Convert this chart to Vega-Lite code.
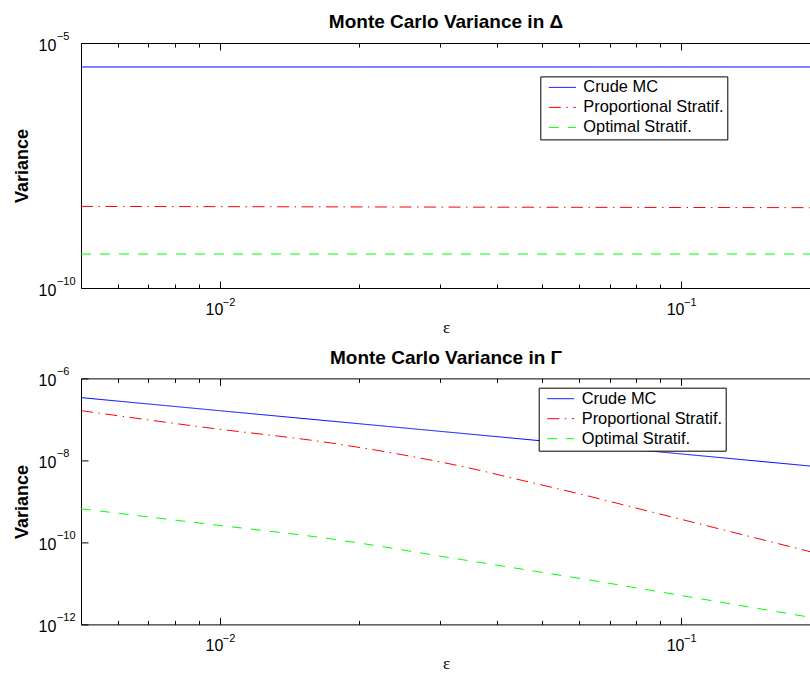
{
  "$schema": "https://vega.github.io/schema/vega-lite/v6.json",
  "background": "white",
  "padding": {"left": 13, "top": 13, "right": 0, "bottom": 0},
  "spacing": 12.4,
  "config": {
    "font": "Liberation Sans",
    "view": {"stroke": null},
    "axis": {"domainColor": "#000000", "tickColor": "#000000", "labelColor": "#000000", "titleColor": "#000000", "grid": false, "labelFont": "Liberation Sans", "titleFont": "Liberation Sans", "labelOverlap": false, "labelFlush": false, "tickWidth": 1, "domainWidth": 1},
    "title": {"font": "Liberation Sans", "fontSize": 19, "fontWeight": "bold", "color": "#000000", "anchor": "middle", "baseline": "alphabetic", "offset": -1.7}
  },
  "datasets": {
    "delta": [
      {"series": "Crude MC", "eps": 0.005, "v": 3.24e-6},
      {"series": "Crude MC", "eps": 0.02, "v": 3.24e-6},
      {"series": "Crude MC", "eps": 0.1914, "v": 3.24e-6},
      {"series": "Proportional Stratif.", "eps": 0.005, "v": 4.62e-9},
      {"series": "Proportional Stratif.", "eps": 0.01, "v": 4.57e-9},
      {"series": "Proportional Stratif.", "eps": 0.03, "v": 4.48e-9},
      {"series": "Proportional Stratif.", "eps": 0.1, "v": 4.4e-9},
      {"series": "Proportional Stratif.", "eps": 0.1914, "v": 4.36e-9},
      {"series": "Optimal Stratif.", "eps": 0.005, "v": 4.94e-10},
      {"series": "Optimal Stratif.", "eps": 0.03, "v": 4.94e-10},
      {"series": "Optimal Stratif.", "eps": 0.1914, "v": 4.94e-10}
    ],
    "gamma": [
      {"series": "Crude MC", "eps": 0.005, "v": 3.40e-7},
      {"series": "Crude MC", "eps": 0.01, "v": 1.63e-7},
      {"series": "Crude MC", "eps": 0.02, "v": 7.86e-8},
      {"series": "Crude MC", "eps": 0.05, "v": 2.99e-8},
      {"series": "Crude MC", "eps": 0.1, "v": 1.44e-8},
      {"series": "Crude MC", "eps": 0.1914, "v": 7.26e-9},
      {"series": "Proportional Stratif.", "eps": 0.005, "v": 1.637e-7},
      {"series": "Proportional Stratif.", "eps": 0.0093, "v": 6.36e-8},
      {"series": "Proportional Stratif.", "eps": 0.0174, "v": 2.66e-8},
      {"series": "Proportional Stratif.", "eps": 0.0247, "v": 1.393e-8},
      {"series": "Proportional Stratif.", "eps": 0.0338, "v": 6.98e-9},
      {"series": "Proportional Stratif.", "eps": 0.045, "v": 3.30e-9},
      {"series": "Proportional Stratif.", "eps": 0.0598, "v": 1.555e-9},
      {"series": "Proportional Stratif.", "eps": 0.086, "v": 5.59e-10},
      {"series": "Proportional Stratif.", "eps": 0.118, "v": 2.30e-10},
      {"series": "Proportional Stratif.", "eps": 0.1914, "v": 5.86e-11},
      {"series": "Optimal Stratif.", "eps": 0.005, "v": 6.61e-10},
      {"series": "Optimal Stratif.", "eps": 0.0093, "v": 2.85e-10},
      {"series": "Optimal Stratif.", "eps": 0.0174, "v": 1.218e-10},
      {"series": "Optimal Stratif.", "eps": 0.0338, "v": 3.74e-11},
      {"series": "Optimal Stratif.", "eps": 0.0607, "v": 1.306e-11},
      {"series": "Optimal Stratif.", "eps": 0.118, "v": 3.71e-12},
      {"series": "Optimal Stratif.", "eps": 0.1914, "v": 1.48e-12}
    ]
  },
  "resolve": {"scale": {"color": "independent", "strokeDash": "independent"}},
  "vconcat": [
    {
      "width": 730,
      "height": 245,
      "title": {"text": "Monte Carlo Variance in Δ"},
      "data": {"name": "delta"},
      "resolve": {"axis": {"x": "independent", "y": "independent"}},
      "layer": [
        {
          "mark": {"type": "line", "strokeWidth": 1, "clip": true, "interpolate": "monotone"},
          "encoding": {
            "x": {"field": "eps", "type": "quantitative", "scale": {"type": "log", "domain": [0.005, 0.1914], "nice": false},
              "axis": {"orient": "bottom", "values": [0.01, 0.1], "labelExpr": "'10'", "labelAlign": "right", "labelOffset": 3, "labelBaseline": "top", "labelPadding": 20.3, "labelFontSize": 16, "ticks": true, "tickSize": -7, "domain": true, "title": "ε", "titleFont": "Liberation Serif", "titleFontSize": 17, "titleFontWeight": "normal", "titlePadding": 2}},
            "y": {"field": "v", "type": "quantitative", "scale": {"type": "log", "domain": [1e-10, 1e-5], "nice": false},
              "axis": {"orient": "left", "values": [1e-10, 1e-5], "labelExpr": "'10'", "labelAlign": "left", "labelBaseline": "middle", "labelOffset": 2, "labelPadding": 49.9, "labelFontSize": 16, "ticks": true, "tickSize": -7, "domain": true, "title": "Variance", "titleFontSize": 18, "titleFontWeight": "bold", "titlePadding": 7}},
            "color": {"field": "series", "type": "nominal",
              "scale": {"domain": ["Crude MC", "Proportional Stratif.", "Optimal Stratif."], "range": ["#0000ff", "#ff0000", "#00ff00"]},
              "legend": {"title": null, "orient": "none", "legendX": 459.3, "legendY": 33.4, "strokeColor": "#000000", "fillColor": "#ffffff", "padding": 3, "cornerRadius": 0, "labelFontSize": 16.4, "labelColor": "#000000", "symbolType": "stroke", "symbolSize": 729, "symbolStrokeWidth": 1, "rowPadding": 3, "clipHeight": 16, "labelOffset": 7, "symbolOffset": 5, "labelLimit": 300}},
            "strokeDash": {"field": "series", "type": "nominal",
              "scale": {"domain": ["Crude MC", "Proportional Stratif.", "Optimal Stratif."], "range": [[1, 0], [12, 5.5, 1.5, 5.5], [10, 9]]},
              "legend": {"title": null, "orient": "none", "legendX": 459.3, "legendY": 33.4, "strokeColor": "#000000", "fillColor": "#ffffff", "padding": 3, "cornerRadius": 0, "labelFontSize": 16.4, "labelColor": "#000000", "symbolType": "stroke", "symbolSize": 729, "symbolStrokeWidth": 1, "rowPadding": 3, "clipHeight": 16, "labelOffset": 7, "symbolOffset": 5, "labelLimit": 300}}
          }
        },
        {
          "mark": {"type": "point", "opacity": 0},
          "encoding": {
            "x": {"field": "eps", "type": "quantitative", "scale": {"type": "log", "domain": [0.005, 0.1914], "nice": false},
              "axis": {"orient": "bottom", "values": [0.006, 0.007, 0.008, 0.009, 0.02, 0.03, 0.04, 0.05, 0.06, 0.07, 0.08, 0.09], "labels": false, "ticks": true, "tickSize": -4, "domain": false, "title": null}},
            "y": {"field": "v", "type": "quantitative", "scale": {"type": "log", "domain": [1e-10, 1e-5], "nice": false},
              "axis": {"orient": "left", "values": [1e-10, 1e-5], "labelExpr": "datum.value > 1e-7 ? '−5' : '−10'", "labelAlign": "left", "labelBaseline": "middle", "labelOffset": -6.6, "labelPadding": 24.6, "labelFontSize": 11, "ticks": false, "domain": false, "title": null}}
          }
        },
        {
          "mark": {"type": "point", "opacity": 0},
          "encoding": {
            "x": {"field": "eps", "type": "quantitative", "scale": {"type": "log", "domain": [0.005, 0.1914], "nice": false},
              "axis": {"orient": "bottom", "values": [0.01, 0.1], "labelExpr": "datum.value < 0.05 ? '−2' : '−1'", "labelAlign": "left", "labelOffset": 2.5, "labelBaseline": "top", "labelPadding": 8, "labelFontSize": 11, "ticks": false, "domain": false, "title": null}},
            "y": {"field": "v", "type": "quantitative", "scale": {"type": "log", "domain": [1e-10, 1e-5], "nice": false}, "axis": null}
          }
        },
        {
          "mark": {"type": "point", "opacity": 0},
          "encoding": {
            "x": {"field": "eps", "type": "quantitative", "scale": {"type": "log", "domain": [0.005, 0.1914], "nice": false},
              "axis": {"orient": "top", "values": [0.01, 0.1], "labels": false, "ticks": true, "tickSize": -7, "domain": true, "title": null}},
            "y": {"field": "v", "type": "quantitative", "scale": {"type": "log", "domain": [1e-10, 1e-5], "nice": false}, "axis": null}
          }
        },
        {
          "mark": {"type": "point", "opacity": 0},
          "encoding": {
            "x": {"field": "eps", "type": "quantitative", "scale": {"type": "log", "domain": [0.005, 0.1914], "nice": false},
              "axis": {"orient": "top", "values": [0.006, 0.007, 0.008, 0.009, 0.02, 0.03, 0.04, 0.05, 0.06, 0.07, 0.08, 0.09], "labels": false, "ticks": true, "tickSize": -4, "domain": false, "title": null}},
            "y": {"field": "v", "type": "quantitative", "scale": {"type": "log", "domain": [1e-10, 1e-5], "nice": false}, "axis": null}
          }
        }
      ]
    },
    {
      "width": 730,
      "height": 246,
      "title": {"text": "Monte Carlo Variance in Γ"},
      "data": {"name": "gamma"},
      "resolve": {"axis": {"x": "independent", "y": "independent"}},
      "layer": [
        {
          "mark": {"type": "line", "strokeWidth": 1, "clip": true, "interpolate": "monotone"},
          "encoding": {
            "x": {"field": "eps", "type": "quantitative", "scale": {"type": "log", "domain": [0.005, 0.1914], "nice": false},
              "axis": {"orient": "bottom", "values": [0.01, 0.1], "labelExpr": "'10'", "labelAlign": "right", "labelOffset": 3, "labelBaseline": "top", "labelPadding": 20.3, "labelFontSize": 16, "ticks": true, "tickSize": -7, "domain": true, "title": "ε", "titleFont": "Liberation Serif", "titleFontSize": 17, "titleFontWeight": "normal", "titlePadding": 2}},
            "y": {"field": "v", "type": "quantitative", "scale": {"type": "log", "domain": [1e-12, 1e-6], "nice": false},
              "axis": {"orient": "left", "values": [1e-12, 1e-10, 1e-8, 1e-6], "labelExpr": "'10'", "labelAlign": "left", "labelBaseline": "middle", "labelOffset": 2, "labelPadding": 49.9, "labelFontSize": 16, "ticks": true, "tickSize": -7, "domain": true, "title": "Variance", "titleFontSize": 18, "titleFontWeight": "bold", "titlePadding": 7}},
            "color": {"field": "series", "type": "nominal",
              "scale": {"domain": ["Crude MC", "Proportional Stratif.", "Optimal Stratif."], "range": ["#0000ff", "#ff0000", "#00ff00"]},
              "legend": {"title": null, "orient": "none", "legendX": 457.7, "legendY": 9.3, "strokeColor": "#000000", "fillColor": "#ffffff", "padding": 3, "cornerRadius": 0, "labelFontSize": 16.4, "labelColor": "#000000", "symbolType": "stroke", "symbolSize": 729, "symbolStrokeWidth": 1, "rowPadding": 3, "clipHeight": 16, "labelOffset": 7, "symbolOffset": 5, "labelLimit": 300}},
            "strokeDash": {"field": "series", "type": "nominal",
              "scale": {"domain": ["Crude MC", "Proportional Stratif.", "Optimal Stratif."], "range": [[1, 0], [12, 5.5, 1.5, 5.5], [10, 9]]},
              "legend": {"title": null, "orient": "none", "legendX": 457.7, "legendY": 9.3, "strokeColor": "#000000", "fillColor": "#ffffff", "padding": 3, "cornerRadius": 0, "labelFontSize": 16.4, "labelColor": "#000000", "symbolType": "stroke", "symbolSize": 729, "symbolStrokeWidth": 1, "rowPadding": 3, "clipHeight": 16, "labelOffset": 7, "symbolOffset": 5, "labelLimit": 300}}
          }
        },
        {
          "mark": {"type": "point", "opacity": 0},
          "encoding": {
            "x": {"field": "eps", "type": "quantitative", "scale": {"type": "log", "domain": [0.005, 0.1914], "nice": false},
              "axis": {"orient": "bottom", "values": [0.006, 0.007, 0.008, 0.009, 0.02, 0.03, 0.04, 0.05, 0.06, 0.07, 0.08, 0.09], "labels": false, "ticks": true, "tickSize": -4, "domain": false, "title": null}},
            "y": {"field": "v", "type": "quantitative", "scale": {"type": "log", "domain": [1e-12, 1e-6], "nice": false},
              "axis": {"orient": "left", "values": [1e-12, 1e-10, 1e-8, 1e-6], "labelExpr": "'−' + round(-log(datum.value) / LN10)", "labelAlign": "left", "labelBaseline": "middle", "labelOffset": -6.6, "labelPadding": 24.6, "labelFontSize": 11, "ticks": false, "domain": false, "title": null}}
          }
        },
        {
          "mark": {"type": "point", "opacity": 0},
          "encoding": {
            "x": {"field": "eps", "type": "quantitative", "scale": {"type": "log", "domain": [0.005, 0.1914], "nice": false},
              "axis": {"orient": "bottom", "values": [0.01, 0.1], "labelExpr": "datum.value < 0.05 ? '−2' : '−1'", "labelAlign": "left", "labelOffset": 2.5, "labelBaseline": "top", "labelPadding": 8, "labelFontSize": 11, "ticks": false, "domain": false, "title": null}},
            "y": {"field": "v", "type": "quantitative", "scale": {"type": "log", "domain": [1e-12, 1e-6], "nice": false}, "axis": null}
          }
        },
        {
          "mark": {"type": "point", "opacity": 0},
          "encoding": {
            "x": {"field": "eps", "type": "quantitative", "scale": {"type": "log", "domain": [0.005, 0.1914], "nice": false},
              "axis": {"orient": "top", "values": [0.01, 0.1], "labels": false, "ticks": true, "tickSize": -7, "domain": true, "title": null}},
            "y": {"field": "v", "type": "quantitative", "scale": {"type": "log", "domain": [1e-12, 1e-6], "nice": false}, "axis": null}
          }
        },
        {
          "mark": {"type": "point", "opacity": 0},
          "encoding": {
            "x": {"field": "eps", "type": "quantitative", "scale": {"type": "log", "domain": [0.005, 0.1914], "nice": false},
              "axis": {"orient": "top", "values": [0.006, 0.007, 0.008, 0.009, 0.02, 0.03, 0.04, 0.05, 0.06, 0.07, 0.08, 0.09], "labels": false, "ticks": true, "tickSize": -4, "domain": false, "title": null}},
            "y": {"field": "v", "type": "quantitative", "scale": {"type": "log", "domain": [1e-12, 1e-6], "nice": false}, "axis": null}
          }
        }
      ]
    }
  ]
}
